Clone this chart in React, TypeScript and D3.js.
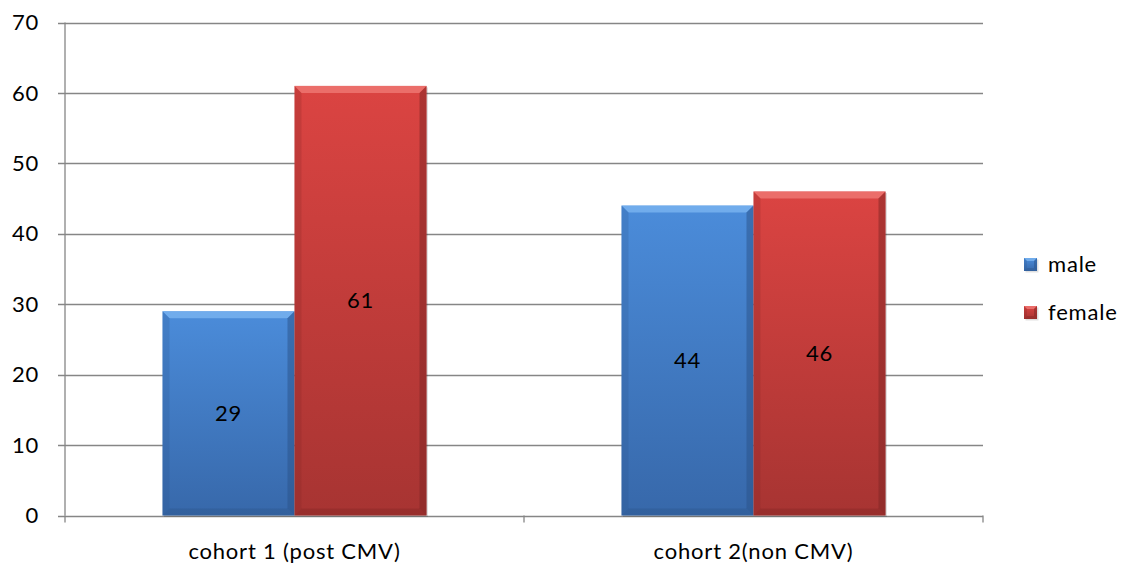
import React from "react";
import * as d3 from "d3";

const categories = ["cohort 1 (post CMV)", "cohort 2(non CMV)"];
const seriesNames = ["male", "female"];
const maleValues = [29, 44];
const femaleValues = [61, 46];
const yTicks = [0, 10, 20, 30, 40, 50, 60, 70];

const W = 1123;
const H = 565;
const plot = { left: 65, right: 983, top: 22.5, bottom: 515.5 };
const FONT = "Lato, 'Open Sans', sans-serif";
const FS = 22;
const LS = 0.8;

const palette = [
  { top: "#4b8cda", bottom: "#3768aa", light: "#7db7f2", dark: "#2a5288" },
  { top: "#db4442", bottom: "#a73432", light: "#f07c78", dark: "#7e2523" },
];

function BevelRect({ x, y, w, h, c, b, id }: any) {
  const x1 = x + w, y1 = y + h;
  const bb = Math.min(b, w / 2, h / 2);
  return (
    <g>
      <defs>
        <linearGradient id={id} x1="0" y1="0" x2="0" y2="1">
          <stop offset="0" stopColor={c.top} />
          <stop offset="1" stopColor={c.bottom} />
        </linearGradient>
      </defs>
      <rect x={x + 1.5} y={y + 1.5} width={w} height={h} fill="#000" opacity={0.12} />
      <rect x={x} y={y} width={w} height={h} fill={`url(#${id})`} />
      {/* top bevel */}
      <path d={`M${x},${y}L${x1},${y}L${x1 - bb},${y + bb}L${x + bb},${y + bb}Z`} fill={c.light} opacity={0.75} />
      {/* left bevel */}
      <path d={`M${x},${y}L${x + bb},${y + bb}L${x + bb},${y1 - bb}L${x},${y1}Z`} fill={c.dark} opacity={0.22} />
      {/* right bevel */}
      <path d={`M${x1},${y}L${x1},${y1}L${x1 - bb},${y1 - bb}L${x1 - bb},${y + bb}Z`} fill={c.dark} opacity={0.5} />
      {/* bottom bevel */}
      <path d={`M${x},${y1}L${x1},${y1}L${x1 - bb},${y1 - bb}L${x + bb},${y1 - bb}Z`} fill={c.dark} opacity={0.35} />
    </g>
  );
}

export default function App() {
  const y = d3.scaleLinear().domain([0, 70]).range([plot.bottom, plot.top]);
  const x0 = d3.scaleBand<string>().domain(categories).range([plot.left, plot.right]).paddingInner(0).paddingOuter(0);
  const groupW = 264;
  const x1 = d3.scaleBand<string>().domain(seriesNames).range([0, groupW]);
  const series = [maleValues, femaleValues];

  return (
    <svg width={W} height={H} style={{ position: "absolute", left: 0, top: 0, background: "#fff" }}>
      {/* gridlines and y ticks */}
      {yTicks.map((t) => (
        <g key={t}>
          <line x1={plot.left - 7} x2={plot.right} y1={Math.round(y(t)) + 0.5} y2={Math.round(y(t)) + 0.5} stroke="#868686" strokeWidth={1.3} />
          <text x={39} y={y(t)} dy="0.35em" textAnchor="end" fontFamily={FONT} fontSize={FS} letterSpacing={LS} fill="#000">{t}</text>
        </g>
      ))}
      {/* y axis */}
      <line x1={plot.left} x2={plot.left} y1={plot.top} y2={plot.bottom} stroke="#868686" strokeWidth={1.3} />
      {/* category ticks */}
      {[plot.left, plot.left + x0.bandwidth(), plot.right].map((tx, i) => (
        <line key={i} x1={tx} x2={tx} y1={plot.bottom} y2={plot.bottom + 7} stroke="#868686" strokeWidth={1.3} />
      ))}
      {/* bars */}
      {categories.map((cat, ci) => {
        const gx = (x0(cat) as number) + (x0.bandwidth() - groupW) / 2;
        return seriesNames.map((s, si) => {
          const v = series[si][ci];
          const bx = gx + (x1(s) as number);
          const by = y(v);
          const bw = x1.bandwidth();
          const bh = y(0) - by;
          return (
            <g key={`${ci}-${si}`}>
              <BevelRect x={bx} y={by} w={bw} h={bh} c={palette[si]} b={7} id={`g${ci}${si}`} />
              <text x={bx + bw / 2} y={by + bh / 2} dy="0.35em" textAnchor="middle" fontFamily={FONT} fontSize={FS} letterSpacing={LS} fill="#000">{v}</text>
            </g>
          );
        });
      })}
      {/* category labels */}
      {categories.map((cat) => (
        <text key={cat} x={(x0(cat) as number) + x0.bandwidth() / 2} y={559} textAnchor="middle" fontFamily={FONT} fontSize={FS} letterSpacing={LS} fill="#000">{cat}</text>
      ))}
      {/* legend */}
      {seriesNames.map((s, i) => (
        <g key={s} transform={`translate(1024, ${258 + i * 48})`}>
          <BevelRect x={0} y={0} w={13} h={13} c={palette[i]} b={3} id={`lg${i}`} />
          <text x={24} y={6.5} dy="0.35em" fontFamily={FONT} fontSize={FS} letterSpacing={LS} fill="#000">{s}</text>
        </g>
      ))}
    </svg>
  );
}
